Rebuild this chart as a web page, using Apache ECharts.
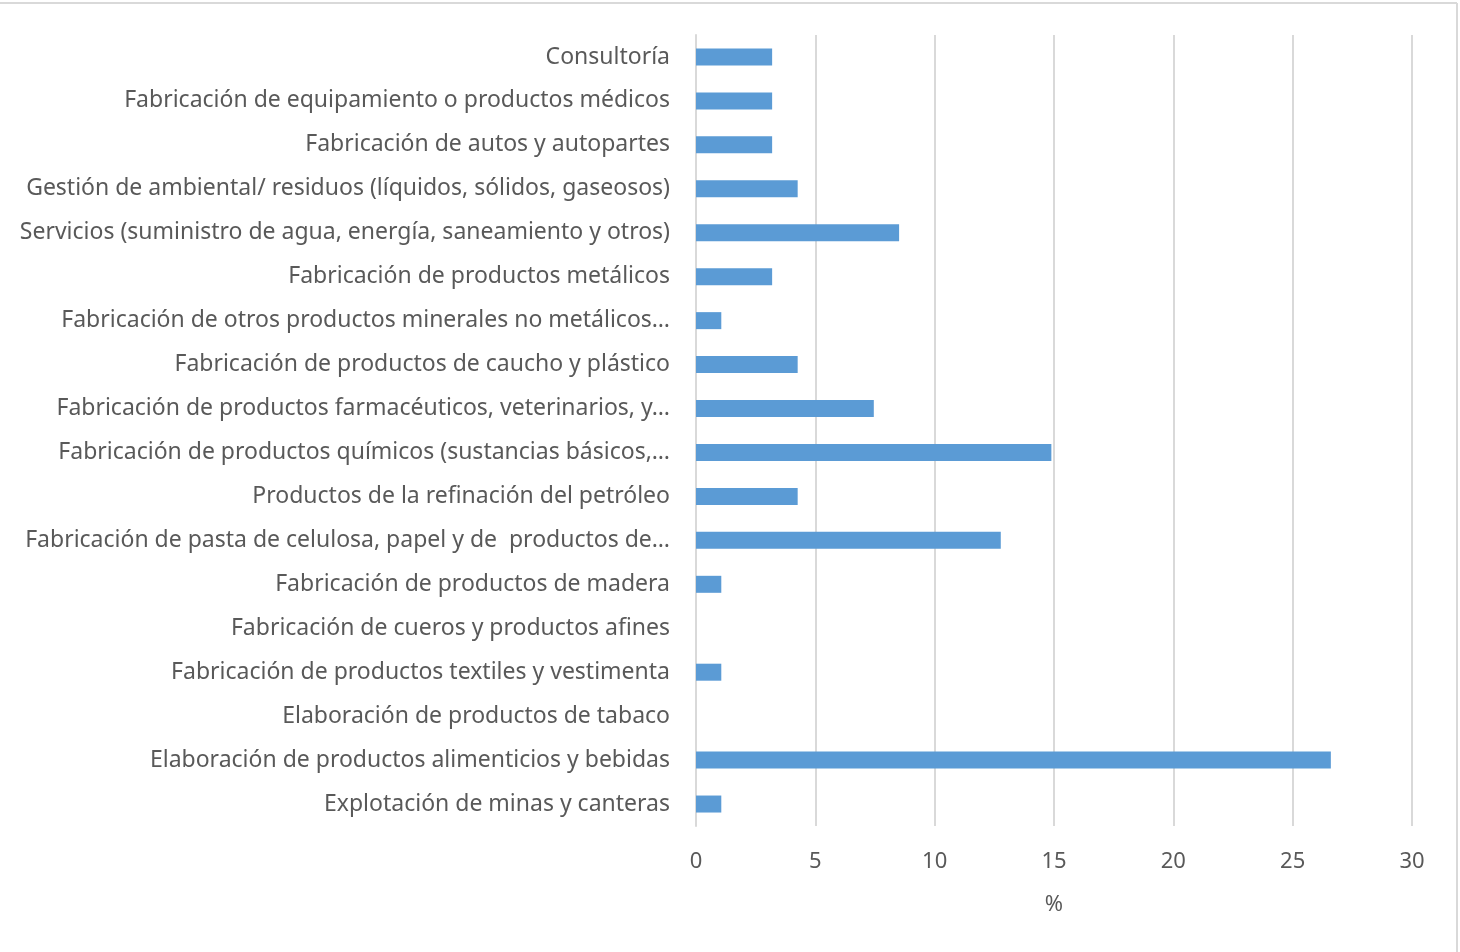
<!DOCTYPE html>
<html><head><meta charset="utf-8">
<script src="https://cdn.jsdelivr.net/npm/echarts@6/dist/echarts.min.js"></script>
<style>html,body{margin:0;padding:0;background:#fff}#c{width:1460px;height:952px}</style>
</head><body><div id="c"></div>
<script>
const categories = [
  "Consultoría",
  "Fabricación de equipamiento o productos médicos",
  "Fabricación de autos y autopartes",
  "Gestión de ambiental/ residuos (líquidos, sólidos, gaseosos)",
  "Servicios (suministro de agua, energía, saneamiento y otros)",
  "Fabricación de productos metálicos",
  "Fabricación de otros productos minerales no metálicos…",
  "Fabricación de productos de caucho y plástico",
  "Fabricación de productos farmacéuticos, veterinarios, y…",
  "Fabricación de productos químicos (sustancias básicos,…",
  "Productos de la refinación del petróleo",
  "Fabricación de pasta de celulosa, papel y de  productos de…",
  "Fabricación de productos de madera",
  "Fabricación de cueros y productos afines",
  "Fabricación de productos textiles y vestimenta",
  "Elaboración de productos de tabaco",
  "Elaboración de productos alimenticios y bebidas",
  "Explotación de minas y canteras"
];
const values = [3.19, 3.19, 3.19, 4.26, 8.51, 3.19, 1.06, 4.26, 7.45, 14.89, 4.26, 12.77, 1.06, 0, 1.06, 0, 26.6, 1.06];
const xTicks = [0, 5, 10, 15, 20, 25, 30];
const axisName = "%";

const chart = echarts.init(document.getElementById('c'));
const font = "'Noto Sans', sans-serif";
chart.setOption({
  animation: false,
  backgroundColor: '#fff',
  graphic: [
    {type: 'line', shape: {x1: 0, y1: 3, x2: 1457, y2: 3}, style: {stroke: '#d9d9d9', lineWidth: 2}},
    {type: 'line', shape: {x1: 1457, y1: 3, x2: 1457, y2: 952}, style: {stroke: '#d9d9d9', lineWidth: 2}}
  ],
  grid: {left: 696, right: 48, top: 35, bottom: 126, containLabel: false},
  xAxis: {
    type: 'value', min: xTicks[0], max: xTicks[xTicks.length - 1], interval: 5,
    name: axisName, nameLocation: 'middle', nameGap: 68,
    nameTextStyle: {color: '#595959', fontSize: 22, fontFamily: font},
    axisLine: {show: false}, axisTick: {show: false},
    axisLabel: {color: '#595959', fontSize: 22, fontFamily: font, margin: 25},
    splitLine: {show: true, lineStyle: {color: '#d9d9d9', width: 2}}
  },
  yAxis: {
    type: 'category', data: categories, inverse: true,
    axisLine: {show: true, lineStyle: {color: '#d9d9d9', width: 2}},
    axisTick: {show: false},
    axisLabel: {color: '#595959', fontSize: 23, fontFamily: font, margin: 26, padding: [4, 0, 0, 0]}
  },
  series: [{
    type: 'bar', data: values, barWidth: 17,
    itemStyle: {color: '#5b9bd5'}
  }]
});
</script></body></html>
